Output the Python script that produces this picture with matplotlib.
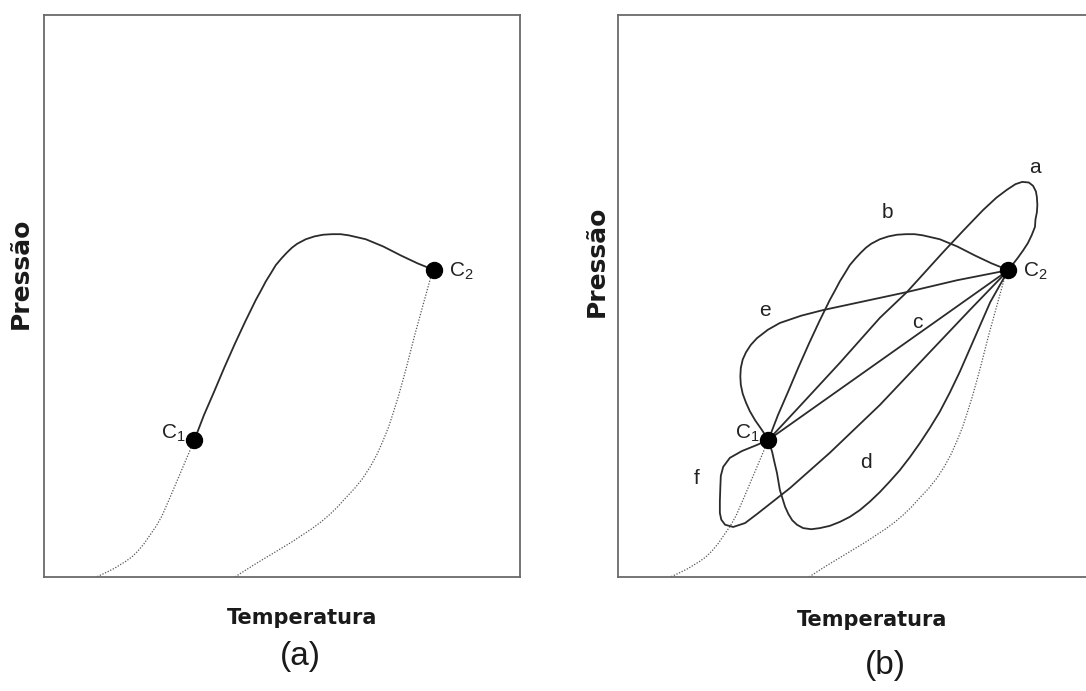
import matplotlib.pyplot as plt

plt.rcParams['font.family'] = ['Liberation Sans', 'DejaVu Sans']
plt.rcParams['mathtext.default'] = 'regular'

# pontos criticos (coordenadas relativas 0-100 dentro da caixa)
c1 = (31.6, 24.4)
c2 = (82.0, 54.6)

# curva critica unica (painel a) == curva b
curva_b_x = [31.6, 33.6, 35.7, 37.9, 40.1, 42.3, 44.5, 45.6, 46.6, 47.7, 48.7, 49.9,
             51.0, 52.1, 53.2, 55.0, 56.8, 58.6, 60.5, 62.3, 64.0, 67.6, 71.3, 75.0,
             78.5, 82.0]
curva_b_y = [24.4, 28.8, 32.9, 37.3, 41.5, 45.5, 49.3, 51.0, 52.6, 54.1, 55.5, 56.7,
             57.7, 58.6, 59.3, 60.1, 60.6, 60.9, 61.0, 61.0, 60.8, 60.1, 58.8, 57.2,
             55.8, 54.6]

# curvas de pressao de vapor (pontilhadas)
vap1_x = [31.6, 30.0, 28.4, 26.6, 24.8, 23.6, 22.3, 21.0, 19.7, 18.5, 17.2, 14.7, 12.8, 11.0]
vap1_y = [24.4, 21.2, 18.0, 14.4, 10.9, 9.1, 7.5, 5.9, 4.6, 3.6, 2.8, 1.5, 0.7, 0.0]
vap2_x = [82.0, 81.2, 79.5, 77.9, 76.2, 75.3, 74.4, 73.4, 72.4, 71.2, 70.0, 68.6,
          67.0, 65.3, 63.4, 61.7, 60.0, 58.2, 56.3, 52.0, 47.5, 43.8, 40.1]
vap2_y = [54.6, 53.2, 48.0, 43.1, 37.5, 34.7, 32.0, 29.3, 26.7, 24.2, 21.9, 19.7,
          17.6, 15.8, 14.1, 12.5, 11.1, 9.8, 8.6, 6.2, 3.9, 2.0, 0.0]

curva_a_x = [31.6, 38.2, 46.6, 55.0, 60.7, 68.3, 72.5, 76.7, 79.5, 81.7, 83.5, 84.9,
             86.3, 87.2, 87.8, 88.0, 88.1, 88.0, 87.7, 87.6, 86.9, 86.1, 85.1, 84.0, 82.0]
curva_a_y = [24.4, 30.4, 38.1, 46.1, 50.7, 57.8, 61.6, 65.3, 67.5, 68.9, 69.9, 70.3,
             70.2, 69.6, 68.6, 67.6, 66.2, 64.9, 63.6, 62.3, 60.8, 59.4, 58.1, 56.8, 54.6]

curva_c_x = [31.6, 82.0]
curva_c_y = [24.4, 54.6]

curva_d_x = [31.6, 32.4, 32.9, 33.4, 34.0, 35.1, 35.8, 36.6, 37.6, 38.9, 40.6, 42.4,
             44.5, 46.6, 48.7, 50.8, 52.9, 55.0, 57.1, 59.2, 61.3, 63.4, 65.5, 67.6,
             69.7, 71.8, 75.0, 78.2, 82.0]
curva_d_y = [24.4, 22.2, 20.3, 18.5, 15.5, 12.5, 11.2, 10.1, 9.3, 8.7, 8.5, 8.7,
             9.1, 9.8, 10.7, 11.9, 13.4, 15.1, 17.0, 19.0, 21.3, 23.8, 26.5, 29.4,
             32.8, 36.5, 42.7, 48.9, 54.6]

curva_e_x = [31.6, 30.2, 28.8, 27.7, 26.9, 26.2, 25.8, 25.7, 25.8, 26.2, 26.9, 27.9,
             29.2, 31.5, 34.0, 38.5, 43.1, 51.9, 60.7, 71.2, 82.0]
curva_e_y = [24.4, 26.2, 27.9, 29.5, 31.0, 32.6, 34.2, 35.7, 37.2, 38.7, 40.0, 41.3,
             42.5, 44.0, 45.2, 46.5, 47.5, 49.1, 50.7, 52.8, 54.6]

curva_f_x = [31.6, 29.2, 26.0, 23.5, 22.1, 21.6, 21.5, 21.4, 21.4, 21.7, 22.5, 24.2,
             26.7, 29.2, 36.1, 44.5, 55.0, 65.5, 73.9, 82.0]
curva_f_y = [24.4, 23.5, 22.4, 21.2, 19.6, 18.0, 16.0, 13.5, 11.4, 10.2, 9.3, 8.9,
             9.6, 11.2, 15.8, 22.1, 30.6, 40.0, 47.5, 54.6]

rotulos = ['a', 'b', 'c', 'd', 'e', 'f']
rotulos_x = [87.6, 56.7, 62.8, 52.1, 30.9, 16.6]
rotulos_y = [72.8, 64.9, 45.2, 20.3, 47.5, 17.6]

cor_linha = '#2b2b2b'
cor_borda = '#6a6a6a'

fig = plt.figure(figsize=(10.86, 6.91), dpi=100)
ax_a = fig.add_axes([44 / 1086, 114 / 691, 476 / 1086, 562 / 691])
ax_b = fig.add_axes([618 / 1086, 114 / 691, 476 / 1086, 562 / 691])


def base(ax, ly_y, px_x, temp_x, temp_y, letra, letra_x, letra_y):
    ax.set_xlim(0, 100)
    ax.set_ylim(0, 100)
    ax.set_xticks([])
    ax.set_yticks([])
    for s in ax.spines.values():
        s.set_color(cor_borda)
        s.set_linewidth(1.3)
    ax.plot(vap1_x, vap1_y, color='#555555', lw=0.9, ls=(0, (1, 1.3)))
    ax.plot(vap2_x, vap2_y, color='#555555', lw=0.9, ls=(0, (1, 1.3)))
    ax.text(px_x, ly_y, 'Pressão', transform=ax.transAxes, rotation=90,
            ha='center', va='center', fontsize=18, fontweight='bold',
            family=['DejaVu Sans'], color='#1a1a1a')
    ax.text(temp_x, temp_y, 'Temperatura', transform=ax.transAxes,
            ha='center', va='center', fontsize=15, fontweight='bold',
            family=['DejaVu Sans'], color='#1a1a1a')
    ax.text(letra_x, letra_y, letra, transform=ax.transAxes, ha='center',
            va='center', fontsize=24, family=['Liberation Sans Narrow', 'Liberation Sans'],
            color='#1a1a1a')


base(ax_a, 0.541, -0.048, 0.542, -0.073, '(a)', 0.538, -0.142)
base(ax_b, 0.562, -0.044, 0.534, -0.077, '(b)', 0.561, -0.157)

# painel (a)
ax_a.plot(curva_b_x, curva_b_y, color=cor_linha, lw=1.3, solid_joinstyle='round')

# painel (b)
for cx, cy in [(curva_a_x, curva_a_y), (curva_b_x, curva_b_y), (curva_c_x, curva_c_y),
               (curva_d_x, curva_d_y), (curva_e_x, curva_e_y), (curva_f_x, curva_f_y)]:
    ax_b.plot(cx, cy, color=cor_linha, lw=1.3, solid_joinstyle='round')

for r, x, y in zip(rotulos, rotulos_x, rotulos_y):
    ax_b.text(x, y, r, ha='center', va='center', fontsize=15, color='#222222')

for ax in (ax_a, ax_b):
    ax.plot([c1[0], c2[0]], [c1[1], c2[1]], 'o', color='black', ms=11.5, ls='none', zorder=5)
    ax.text(c1[0] - 1.8, c1[1] + 1.2, 'C$_1$', ha='right', va='center', fontsize=15,
            color='#222222', zorder=6)
    ax.text(c2[0] + 3.0, c2[1] - 0.2, 'C$_2$', ha='left', va='center', fontsize=15,
            color='#222222', zorder=6)

fig.savefig('out.png', dpi=100)
